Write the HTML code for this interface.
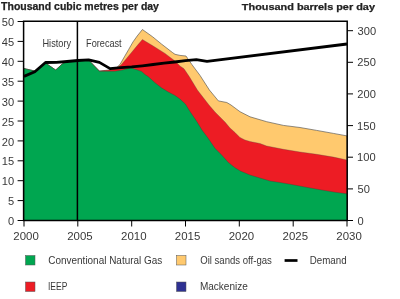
<!DOCTYPE html>
<html><head><meta charset="utf-8"><style>
html,body{margin:0;padding:0;background:#fff;width:400px;height:299px;overflow:hidden}
svg{display:block;will-change:transform}
.t{font-family:"Liberation Sans",sans-serif;font-size:10.8px;fill:#383838}
.b{font-family:"Liberation Sans",sans-serif;font-size:10.5px;font-weight:bold;fill:#222;stroke:#222;stroke-width:0.25px}
</style></head><body>
<svg width="400" height="299" viewBox="0 0 400 299">
<polygon points="24.0,68.5 34.8,71.0 45.5,63.0 55.7,70.0 62.2,64.0 67.1,61.5 77.8,60.5 88.6,60.0 99.4,71.0 110.1,70.0 116.0,68.3 120.1,64.3 124.4,56.8 128.7,49.4 133.0,41.9 137.2,36.0 142.4,29.5 152.5,36.7 161.7,44.2 172.6,52.6 175.0,54.3 180.0,55.4 186.0,56.0 192.0,64.7 200.0,75.4 209.4,90.0 218.4,100.9 226.8,102.5 231.0,105.0 240.0,111.7 250.0,116.8 266.7,121.7 283.4,125.4 300.0,127.5 316.7,130.4 333.4,133.4 347.0,135.9 347,220.5 24,220.5" fill="#FFC96E" stroke="#444" stroke-width="0.6"/>
<polygon points="24.0,68.5 34.8,71.0 45.5,63.0 55.7,70.0 62.2,64.0 67.1,61.5 77.8,60.5 88.6,60.0 99.4,71.0 110.1,70.0 116.0,68.5 121.2,64.8 126.5,58.4 131.9,52.0 137.2,45.6 142.4,39.5 153.2,46.0 165.0,53.4 175.0,61.0 180.0,66.0 184.0,68.7 189.4,76.8 197.4,90.0 209.0,105.0 215.0,112.0 220.0,117.0 225.0,122.0 230.0,128.0 235.0,132.5 240.0,137.5 245.0,140.0 250.0,141.5 260.0,143.5 266.7,146.0 283.4,149.3 300.0,152.0 316.7,154.3 333.4,157.1 347.0,160.0 347,220.5 24,220.5" fill="#ED1C24" stroke="#444" stroke-width="0.3"/>
<polygon points="24.0,68.5 34.8,71.0 45.5,63.0 55.7,70.0 62.2,64.0 67.1,61.5 77.8,60.5 88.6,60.0 99.4,71.3 110.1,71.3 115.0,71.2 122.5,70.0 130.8,67.8 137.5,70.0 141.7,71.4 145.0,74.5 148.4,76.7 155.0,82.7 161.8,88.0 168.4,92.0 175.0,95.4 180.0,99.0 185.4,104.0 190.0,111.4 196.8,121.4 202.0,130.0 208.0,138.0 215.0,148.3 221.7,155.0 228.4,162.4 235.0,167.7 240.4,171.0 247.1,173.8 250.0,175.0 260.0,178.0 270.0,181.0 280.0,182.5 290.0,184.2 305.0,187.0 320.0,189.7 335.0,192.2 347.0,193.8 347,220.5 24,220.5" fill="#00A650" stroke="#333" stroke-width="0.3"/>
<polyline points="24.0,76.4 34.8,71.8 45.5,62.5 56.3,62.4 67.1,61.5 77.8,60.5 88.6,59.8 99.4,62.4 110.1,68.6 120.9,67.6 131.7,66.9 142.4,65.8 153.2,64.5 164.0,63.2 174.7,62.0 185.5,60.6 196.3,59.7 207.0,61.4 347.0,44.0" fill="none" stroke="#000" stroke-width="2.8" stroke-linejoin="round"/>
<line x1="77.4" y1="21.4" x2="77.4" y2="220.5" stroke="#000" stroke-width="1.5"/>
<path d="M23.6,21.3 H347.2 V220.4 H23.6 Z" fill="none" stroke="#000" stroke-width="1.5"/>
<line x1="17.6" y1="220.5" x2="23.8" y2="220.5" stroke="#000" stroke-width="1"/>
<text x="8.02" y="225.10" textLength="6.19" lengthAdjust="spacingAndGlyphs" class="t" style="font-size:10.8px">0</text>
<line x1="17.6" y1="200.6" x2="23.8" y2="200.6" stroke="#000" stroke-width="1"/>
<text x="8.02" y="205.20" textLength="6.19" lengthAdjust="spacingAndGlyphs" class="t" style="font-size:10.8px">5</text>
<line x1="17.6" y1="180.7" x2="23.8" y2="180.7" stroke="#000" stroke-width="1"/>
<text x="1.83" y="185.30" textLength="12.37" lengthAdjust="spacingAndGlyphs" class="t" style="font-size:10.8px">10</text>
<line x1="17.6" y1="160.8" x2="23.8" y2="160.8" stroke="#000" stroke-width="1"/>
<text x="1.83" y="165.40" textLength="12.37" lengthAdjust="spacingAndGlyphs" class="t" style="font-size:10.8px">15</text>
<line x1="17.6" y1="140.9" x2="23.8" y2="140.9" stroke="#000" stroke-width="1"/>
<text x="1.83" y="145.50" textLength="12.37" lengthAdjust="spacingAndGlyphs" class="t" style="font-size:10.8px">20</text>
<line x1="17.6" y1="121.0" x2="23.8" y2="121.0" stroke="#000" stroke-width="1"/>
<text x="1.83" y="125.60" textLength="12.37" lengthAdjust="spacingAndGlyphs" class="t" style="font-size:10.8px">25</text>
<line x1="17.6" y1="101.1" x2="23.8" y2="101.1" stroke="#000" stroke-width="1"/>
<text x="1.83" y="105.70" textLength="12.37" lengthAdjust="spacingAndGlyphs" class="t" style="font-size:10.8px">30</text>
<line x1="17.6" y1="81.2" x2="23.8" y2="81.2" stroke="#000" stroke-width="1"/>
<text x="1.83" y="85.80" textLength="12.37" lengthAdjust="spacingAndGlyphs" class="t" style="font-size:10.8px">35</text>
<line x1="17.6" y1="61.3" x2="23.8" y2="61.3" stroke="#000" stroke-width="1"/>
<text x="1.83" y="65.90" textLength="12.37" lengthAdjust="spacingAndGlyphs" class="t" style="font-size:10.8px">40</text>
<line x1="17.6" y1="41.4" x2="23.8" y2="41.4" stroke="#000" stroke-width="1"/>
<text x="1.83" y="46.00" textLength="12.37" lengthAdjust="spacingAndGlyphs" class="t" style="font-size:10.8px">45</text>
<line x1="17.6" y1="21.5" x2="23.8" y2="21.5" stroke="#000" stroke-width="1"/>
<text x="1.83" y="26.10" textLength="12.37" lengthAdjust="spacingAndGlyphs" class="t" style="font-size:10.8px">50</text>
<line x1="347.2" y1="220.5" x2="353" y2="220.5" stroke="#000" stroke-width="1"/>
<text x="357.57" y="224.50" textLength="6.19" lengthAdjust="spacingAndGlyphs" class="t" style="font-size:10.8px">0</text>
<line x1="347.2" y1="188.9" x2="353" y2="188.9" stroke="#000" stroke-width="1"/>
<text x="357.46" y="192.86" textLength="12.37" lengthAdjust="spacingAndGlyphs" class="t" style="font-size:10.8px">50</text>
<line x1="347.2" y1="157.2" x2="353" y2="157.2" stroke="#000" stroke-width="1"/>
<text x="357.12" y="161.22" textLength="18.56" lengthAdjust="spacingAndGlyphs" class="t" style="font-size:10.8px">100</text>
<line x1="347.2" y1="125.6" x2="353" y2="125.6" stroke="#000" stroke-width="1"/>
<text x="357.12" y="129.58" textLength="18.56" lengthAdjust="spacingAndGlyphs" class="t" style="font-size:10.8px">150</text>
<line x1="347.2" y1="93.9" x2="353" y2="93.9" stroke="#000" stroke-width="1"/>
<text x="357.34" y="97.95" textLength="18.56" lengthAdjust="spacingAndGlyphs" class="t" style="font-size:10.8px">200</text>
<line x1="347.2" y1="62.3" x2="353" y2="62.3" stroke="#000" stroke-width="1"/>
<text x="357.34" y="66.31" textLength="18.56" lengthAdjust="spacingAndGlyphs" class="t" style="font-size:10.8px">250</text>
<line x1="347.2" y1="30.7" x2="353" y2="30.7" stroke="#000" stroke-width="1"/>
<text x="357.57" y="34.67" textLength="18.56" lengthAdjust="spacingAndGlyphs" class="t" style="font-size:10.8px">300</text>
<line x1="24.0" y1="220.5" x2="24.0" y2="226.5" stroke="#000" stroke-width="1"/>
<text x="13.39" y="239.60" textLength="25.47" lengthAdjust="spacingAndGlyphs" class="t" style="font-size:10.8px">2000</text>
<line x1="77.8" y1="220.5" x2="77.8" y2="226.5" stroke="#000" stroke-width="1"/>
<text x="67.22" y="239.60" textLength="25.47" lengthAdjust="spacingAndGlyphs" class="t" style="font-size:10.8px">2005</text>
<line x1="131.7" y1="220.5" x2="131.7" y2="226.5" stroke="#000" stroke-width="1"/>
<text x="121.05" y="239.60" textLength="25.47" lengthAdjust="spacingAndGlyphs" class="t" style="font-size:10.8px">2010</text>
<line x1="185.5" y1="220.5" x2="185.5" y2="226.5" stroke="#000" stroke-width="1"/>
<text x="174.89" y="239.60" textLength="25.47" lengthAdjust="spacingAndGlyphs" class="t" style="font-size:10.8px">2015</text>
<line x1="239.3" y1="220.5" x2="239.3" y2="226.5" stroke="#000" stroke-width="1"/>
<text x="228.72" y="239.60" textLength="25.47" lengthAdjust="spacingAndGlyphs" class="t" style="font-size:10.8px">2020</text>
<line x1="293.2" y1="220.5" x2="293.2" y2="226.5" stroke="#000" stroke-width="1"/>
<text x="282.55" y="239.60" textLength="25.47" lengthAdjust="spacingAndGlyphs" class="t" style="font-size:10.8px">2025</text>
<line x1="347.0" y1="220.5" x2="347.0" y2="226.5" stroke="#000" stroke-width="1"/>
<text x="336.39" y="239.60" textLength="25.47" lengthAdjust="spacingAndGlyphs" class="t" style="font-size:10.8px">2030</text>
<text x="42.46" y="47.00" textLength="28.64" lengthAdjust="spacingAndGlyphs" class="t" style="font-size:10.3px">History</text>
<text x="86.07" y="47.00" textLength="35.61" lengthAdjust="spacingAndGlyphs" class="t" style="font-size:10.3px">Forecast</text>
<text x="1.10" y="9.50" textLength="157.86" lengthAdjust="spacingAndGlyphs" class="b" style="font-size:10.0px">Thousand cubic metres per day</text>
<text x="241.89" y="10.00" textLength="133.07" lengthAdjust="spacingAndGlyphs" class="b" style="font-size:9.8px">Thousand barrels per day</text>
<rect x="25.5" y="255.5" width="9.5" height="9.5" fill="#00A650" stroke="#555" stroke-width="0.5"/>
<rect x="25.5" y="282" width="9.5" height="9.5" fill="#ED1C24" stroke="#555" stroke-width="0.5"/>
<rect x="176.5" y="255.5" width="9.5" height="9.5" fill="#FFC96E" stroke="#555" stroke-width="0.5"/>
<rect x="176.5" y="282" width="9.5" height="9.5" fill="#2E3192" stroke="#555" stroke-width="0.5"/>
<line x1="284.6" y1="260.5" x2="297.5" y2="260.5" stroke="#000" stroke-width="2.7"/>
<text x="48.30" y="264.10" textLength="114.00" lengthAdjust="spacingAndGlyphs" class="t" style="font-size:10.8px">Conventional Natural Gas</text>
<text x="47.99" y="289.70" textLength="19.31" lengthAdjust="spacingAndGlyphs" class="t" style="font-size:10.8px">IEEP</text>
<text x="200.22" y="264.10" textLength="71.67" lengthAdjust="spacingAndGlyphs" class="t" style="font-size:10.8px">Oil sands off-gas</text>
<text x="199.90" y="289.80" textLength="47.97" lengthAdjust="spacingAndGlyphs" class="t" style="font-size:10.8px">Mackenize</text>
<text x="309.72" y="264.20" textLength="36.83" lengthAdjust="spacingAndGlyphs" class="t" style="font-size:10.8px">Demand</text>
</svg>
</body></html>
